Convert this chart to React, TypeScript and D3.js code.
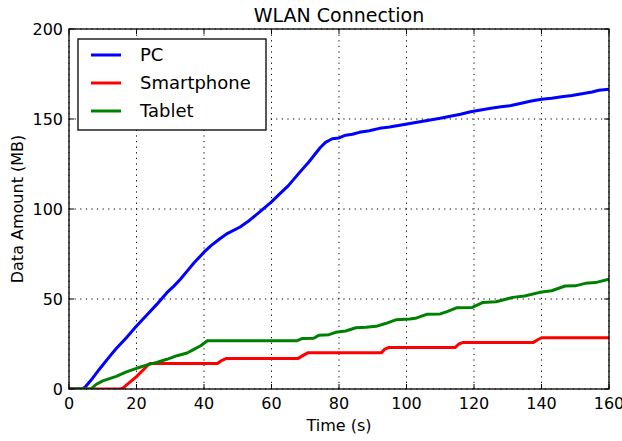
import * as d3 from "d3"

// time (s) / data amount (MB)
const pcTime = [0, 4, 5, 7, 9, 12, 14, 17, 20, 23, 26, 29, 31, 33, 35, 37, 40, 42, 44.7, 47, 50.7, 53, 56.6, 60, 62.5, 65, 68.4, 71, 74.4, 76, 78, 80, 82, 84, 86, 89, 92, 95, 98, 101, 104, 107, 110, 113, 116, 119, 122, 125, 128, 131, 134, 137, 140, 143, 146, 149, 152, 155, 157, 160]
const pcData = [0, 0, 1.5, 6, 11, 18, 22.5, 28.5, 35, 41, 47, 53.5, 57, 61, 65.5, 70, 76, 79.5, 83.5, 86.5, 90, 93, 98.5, 104, 108.5, 113, 120.5, 126, 134, 137, 139, 139.5, 141, 141.5, 142.6, 143.5, 144.8, 145.5, 146.5, 147.5, 148.5, 149.5, 150.4, 151.5, 152.6, 154, 155, 156, 156.8, 157.5, 158.7, 160, 161, 161.5, 162.4, 163, 164, 165, 166, 166.5]

const phoneTime = [0, 15, 16, 17, 20, 23, 24, 44, 45.2, 46.7, 67.9, 69.5, 70.9, 92.6, 93.5, 94.6, 114.4, 115.5, 116.8, 137.6, 139, 140, 160]
const phoneData = [0, 0, 0.5, 2.2, 6.9, 12.5, 14.2, 14.2, 15.8, 17, 17, 18.8, 20.2, 20.2, 22, 23, 23, 25, 25.9, 25.9, 27.5, 28.5, 28.5]

const tabletTime = [0, 6.5, 8, 10, 12, 14, 17, 20, 23, 26, 29, 32, 35, 37, 39, 41, 67.5, 69, 72.5, 74, 77, 79, 82, 85, 88, 91, 94, 97, 101, 103, 106, 110, 112, 115, 119.5, 122.5, 126.5, 131.5, 135, 139.5, 143, 147, 150, 153, 156, 160]
const tabletData = [0, 0, 2.5, 4.5, 5.8, 7, 9.5, 11.5, 13.3, 14.8, 16.5, 18.5, 20, 22, 24, 26.8, 26.8, 28, 28.2, 29.8, 30.2, 31.5, 32.2, 34, 34.3, 34.8, 36.5, 38.5, 38.9, 39.5, 41.5, 41.7, 43, 45.2, 45.3, 48, 48.5, 50.9, 51.7, 53.7, 54.6, 57.2, 57.3, 58.7, 59.1, 61]

const seriesNames = ["PC", "Smartphone", "Tablet"]
const seriesColors = ["#0000ff", "#ff0000", "#008000"]
const xTicks = [0, 20, 40, 60, 80, 100, 120, 140, 160]
const yTicks = [0, 50, 100, 150, 200]

const W = 622
const H = 441
const FONT = "DejaVu Sans, sans-serif"

export default function App() {
  const left = 69, right = 609, top = 29, bottom = 389

  const x = d3.scaleLinear().domain([0, 160]).range([left, right])
  const y = d3.scaleLinear().domain([0, 200]).range([bottom, top])

  const line = d3
    .line<[number, number]>()
    .x((d) => x(d[0]))
    .y((d) => y(d[1]))

  const series = [
    pcTime.map((t, i) => [t, pcData[i]] as [number, number]),
    phoneTime.map((t, i) => [t, phoneData[i]] as [number, number]),
    tabletTime.map((t, i) => [t, tabletData[i]] as [number, number]),
  ]

  const tickLen = 5

  return (
    <svg
      width={W}
      height={H}
      style={{ position: "absolute", left: 0, top: 0, background: "#fff" }}
      fontFamily={FONT}
    >
      {/* grid */}
      {xTicks.map((t) => (
        <line key={"gx" + t} x1={x(t)} x2={x(t)} y1={top} y2={bottom}
          stroke="#000" strokeWidth={1} strokeDasharray="1.2,4.4" />
      ))}
      {yTicks.map((t) => (
        <line key={"gy" + t} x1={left} x2={right} y1={y(t)} y2={y(t)}
          stroke="#000" strokeWidth={1} strokeDasharray="1.2,4.4" />
      ))}

      {/* data lines */}
      <g clipPath="url(#plotclip)">
        {series.map((s, i) => (
          <path key={seriesNames[i]} d={line(s) ?? ""} fill="none"
            stroke={seriesColors[i]} strokeWidth={3} strokeLinejoin="round" strokeLinecap="round" />
        ))}
      </g>
      <defs>
        <clipPath id="plotclip">
          <rect x={left} y={top - 2} width={right - left} height={bottom - top + 2} />
        </clipPath>
      </defs>

      {/* ticks, pointing inwards on all four sides */}
      {xTicks.map((t) => (
        <g key={"tx" + t}>
          <line x1={x(t)} x2={x(t)} y1={bottom} y2={bottom - tickLen} stroke="#000" />
          <line x1={x(t)} x2={x(t)} y1={top} y2={top + tickLen} stroke="#000" />
          <text x={x(t)} y={409} textAnchor="middle" fontSize={16} fill="#000">{t}</text>
        </g>
      ))}
      {yTicks.map((t) => (
        <g key={"ty" + t}>
          <line x1={left} x2={left + tickLen} y1={y(t)} y2={y(t)} stroke="#000" />
          <line x1={right} x2={right - tickLen} y1={y(t)} y2={y(t)} stroke="#000" />
          <text x={63} y={y(t)} dy="0.36em" textAnchor="end" fontSize={16} fill="#000">{t}</text>
        </g>
      ))}

      {/* frame */}
      <rect x={left} y={top} width={right - left} height={bottom - top}
        fill="none" stroke="#000" strokeWidth={1.3} />

      {/* title and axis labels */}
      <text x={(left + right) / 2} y={22} textAnchor="middle" fontSize={19} fill="#000">WLAN Connection</text>
      <text x={(left + right) / 2} y={431} textAnchor="middle" fontSize={16} fill="#000">Time (s)</text>
      <text transform={`translate(23, ${(top + bottom) / 2}) rotate(-90)`} textAnchor="middle"
        fontSize={16} fill="#000">Data Amount (MB)</text>

      {/* legend */}
      <g>
        <rect x={78} y={39} width={188} height={91} fill="#fff" stroke="#000" strokeWidth={1.3} />
        {seriesNames.map((name, i) => {
          const ly = 55 + i * 28
          return (
            <g key={"lg" + name}>
              <line x1={91} x2={121} y1={ly} y2={ly} stroke={seriesColors[i]} strokeWidth={3} />
              <text x={140} y={ly} dy="0.36em" fontSize={18} fill="#000">{name}</text>
            </g>
          )
        })}
      </g>
    </svg>
  )
}
